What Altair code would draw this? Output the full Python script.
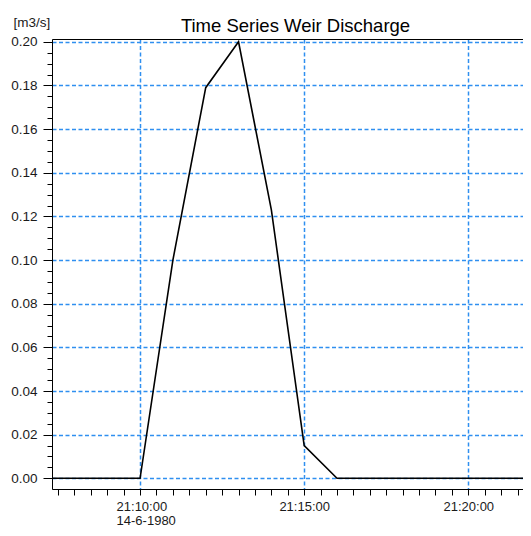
import altair as alt
import pandas as pd

# ---- data ----
times = [
    "1980-06-14T21:07:00Z", "1980-06-14T21:08:00Z", "1980-06-14T21:09:00Z",
    "1980-06-14T21:10:00Z", "1980-06-14T21:11:00Z", "1980-06-14T21:12:00Z",
    "1980-06-14T21:13:00Z", "1980-06-14T21:14:00Z", "1980-06-14T21:15:00Z",
    "1980-06-14T21:16:00Z", "1980-06-14T21:17:00Z", "1980-06-14T21:18:00Z",
    "1980-06-14T21:19:00Z", "1980-06-14T21:20:00Z", "1980-06-14T21:21:00Z",
    "1980-06-14T21:22:00Z",
]
discharge = [0.0, 0.0, 0.0, 0.0, 0.100, 0.179, 0.200, 0.123, 0.015,
             0.0, 0.0, 0.0, 0.0, 0.0, 0.0, 0.0]

title_text = "Time Series Weir Discharge"
y_unit = "[m3/s]"
date_label = "14-6-1980"
x_domain = ["1980-06-14T21:07:19Z", "1980-06-14T21:21:40Z"]
y_domain = [-0.0049, 0.2013]

df = pd.DataFrame({"time": times, "value": discharge})
title_df = pd.DataFrame({"t": [title_text]})


def ms(s):
    return int(pd.Timestamp(s).value // 10**6)


x_start = pd.Timestamp("1980-06-14T21:07:30Z")
x_tick_values = [int((x_start + pd.Timedelta(seconds=30 * i)).value // 10**6) for i in range(30)]
y_tick_values = [round(i * 0.005, 3) for i in range(41)]

grid_color = "#2f8ff0"
font = "Liberation Sans"

xmaj = "utcminutes(datum.value) % 5 == 0 && utcseconds(datum.value) == 0"
xfirst = "utcminutes(datum.value) == 10 && utcseconds(datum.value) == 0"
ymaj = "abs(datum.value * 50 - round(datum.value * 50)) < 0.001"

x_scale = alt.Scale(type="utc", domain=[ms(x_domain[0]), ms(x_domain[1])], nice=False)
y_scale = alt.Scale(domain=y_domain, nice=False, zero=False)

x_axis = alt.Axis(
    values=x_tick_values,
    labelExpr=f"({xmaj}) ? (({xfirst}) ? [utcFormat(datum.value, '%H:%M:%S'), '{date_label}'] : utcFormat(datum.value, '%H:%M:%S')) : ''",
    labelOverlap=False,
    labelFlush=False,
    labelFont=font,
    labelFontSize=13,
    labelColor="#1a1a1a",
    labelLineHeight=14,
    labelPadding=5.5,
    labelBaseline="top",
    labelAlign={"condition": {"test": xfirst, "value": "left"}, "value": "center"},
    labelOffset={"condition": {"test": xfirst, "value": -24}, "value": 0},
    tickSize=6,
    tickColor="black",
    tickWidth=1,
    domainColor="black",
    domainWidth=1,
    grid=True,
    gridColor=grid_color,
    gridWidth=1.5,
    gridDash=[4, 2.5],
    gridOpacity={"condition": {"test": xmaj, "value": 1}, "value": 0},
    title=None,
)

y_axis = alt.Axis(
    values=y_tick_values,
    labelExpr=f"({ymaj}) ? format(datum.value, '.2f') : ''",
    labelOverlap=False,
    labelFlush=False,
    labelFont=font,
    labelFontSize=13.5,
    labelColor="#1a1a1a",
    labelPadding=6,
    tickSize={"condition": {"test": ymaj, "value": 9}, "value": 5},
    tickColor="black",
    tickWidth=1,
    domainColor="black",
    domainWidth=1,
    grid=True,
    gridColor=grid_color,
    gridWidth=1.5,
    gridDash=[4, 2.5],
    gridOpacity={"condition": {"test": ymaj, "value": 1}, "value": 0},
    title=y_unit,
    titleAngle=0,
    titleAlign="left",
    titleBaseline="middle",
    titleX=-39,
    titleY=-17,
    titleFont=font,
    titleFontSize=13.5,
    titleFontWeight="normal",
    titleColor="#1a1a1a",
)

line = alt.Chart(df).mark_line(color="black", strokeWidth=1.6, clip=True).encode(
    x=alt.X("time:T", scale=x_scale, axis=x_axis),
    y=alt.Y("value:Q", scale=y_scale, axis=y_axis),
)

top_border = alt.Chart(df).mark_point(opacity=0, clip=True).encode(
    x=alt.X(
        "time:T",
        scale=x_scale,
        axis=alt.Axis(orient="top", labels=False, ticks=False, grid=False,
                      domainColor="black", domainWidth=1, title=None),
    ),
)

title_mark = alt.Chart(title_df).mark_text(
    font=font, fontSize=18.5, color="black", align="center", baseline="alphabetic"
).encode(text="t:N", x=alt.value(243.5), y=alt.value(-7.3))

chart = (
    alt.layer(line, top_border, title_mark)
    .resolve_axis(x="independent")
    .properties(
        width=471,
        height=450,
        autosize=alt.AutoSizeParams(type="none"),
        padding={"left": 44, "top": 31, "right": 0, "bottom": 39},
    )
    .configure_view(strokeWidth=0)
    .configure(background="white")
)

chart.save("out.html", embed_options={"renderer": "svg", "actions": False})
